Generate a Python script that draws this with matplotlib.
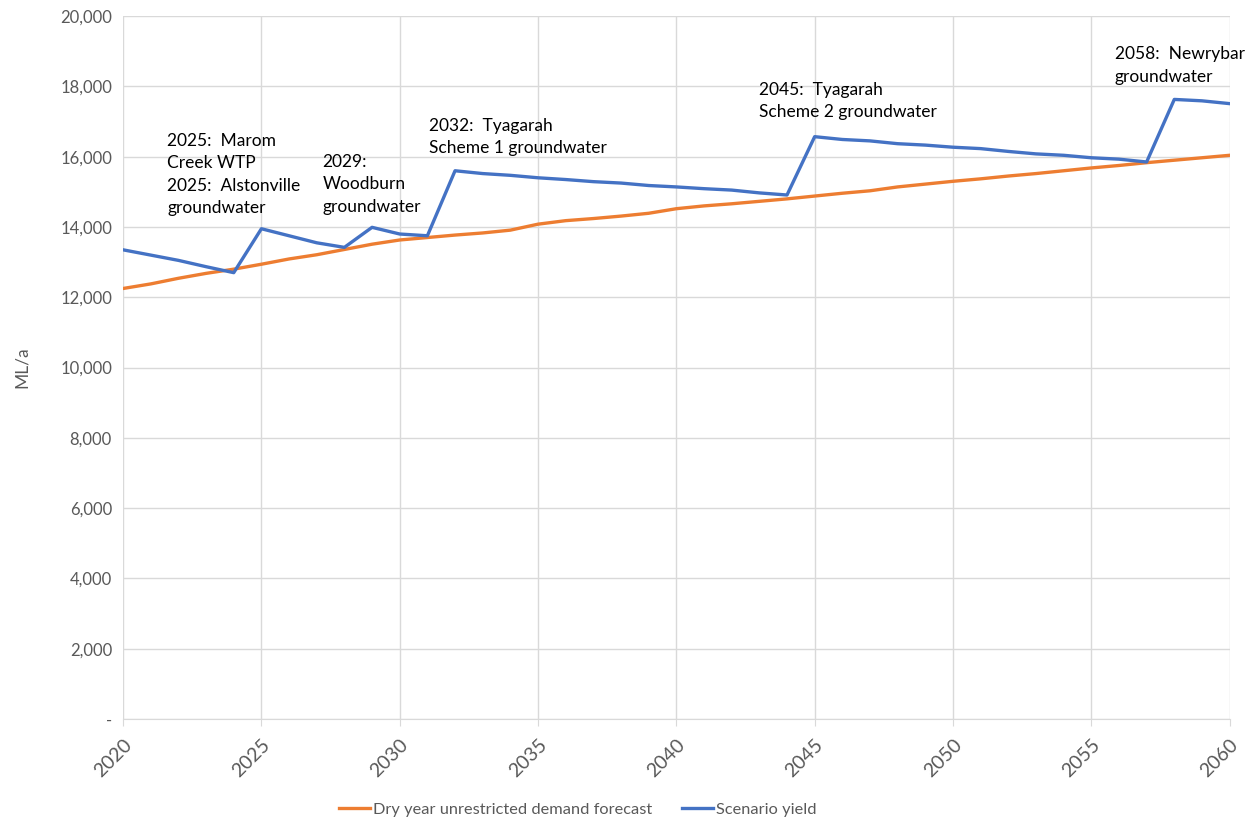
import numpy as np
import matplotlib
matplotlib.use('Agg')
import matplotlib.pyplot as plt
from matplotlib.ticker import FuncFormatter

plt.rcParams['font.family'] = ['Lato', 'DejaVu Sans']

years = list(range(2020, 2061))

demand = [12250, 12380, 12540, 12680, 12800, 12940, 13090, 13210, 13360, 13510,
          13630, 13700, 13770, 13830, 13910, 14080, 14180, 14240, 14310, 14390,
          14520, 14600, 14660, 14730, 14800, 14880, 14960, 15030, 15140, 15220,
          15300, 15370, 15450, 15520, 15600, 15680, 15750, 15830, 15900, 15970,
          16040]

yield_ = [13350, 13200, 13050, 12870, 12700, 13950, 13750, 13550, 13420, 13990,
          13800, 13750, 15600, 15520, 15470, 15400, 15350, 15290, 15250, 15180,
          15140, 15090, 15050, 14970, 14910, 16570, 16490, 16450, 16370, 16330,
          16270, 16230, 16150, 16080, 16040, 15970, 15930, 15850, 17630, 17590,
          17510]

notes = ['2025:  Marom\nCreek WTP\n2025:  Alstonville\ngroundwater',
         '2029:\nWoodburn\ngroundwater',
         '2032:  Tyagarah\nScheme 1 groundwater',
         '2045:  Tyagarah\nScheme 2 groundwater',
         '2058:  Newrybar\ngroundwater']
note_x = [2021.6, 2027.2, 2031.05, 2043.0, 2055.85]
note_y = [16680, 16080, 17110, 18130, 19150]

orange = '#ED7D31'
blue = '#4472C4'
grey = '#595959'

fig = plt.figure(figsize=(12.56, 8.23), dpi=100)
ax = fig.add_axes([0.098, 0.1264, 0.881, 0.854])

ax.plot(years, demand, color=orange, lw=2.4, label='Dry year unrestricted demand forecast', zorder=3)
ax.plot(years, yield_, color=blue, lw=2.4, label='Scenario yield', zorder=4)

for t, x, y in zip(notes, note_x, note_y):
    ax.text(x, y, t, fontsize=12.5, color='black', va='top', ha='left', linespacing=1.5)

ax.set_xlim(2020, 2060)
ax.set_ylim(0, 20000)
ax.set_xticks(range(2020, 2061, 5))
ax.set_yticks(range(0, 20001, 2000))
ax.yaxis.set_major_formatter(FuncFormatter(lambda v, p: '-' if v == 0 else f'{int(v):,}'))
ax.grid(True, color='#d9d9d9', lw=1)
ax.set_axisbelow(True)
for s in ['top', 'right', 'left']:
    ax.spines[s].set_visible(False)
ax.spines['bottom'].set_color('#d9d9d9')
ax.tick_params(axis='y', length=0, labelsize=12, colors=grey, pad=8)
ax.tick_params(axis='x', length=5, color='#d9d9d9', labelsize=14, labelcolor=grey, pad=7)
plt.setp(ax.get_xticklabels(), rotation=45, ha='right', rotation_mode='anchor')
ax.set_ylabel('ML/a', fontsize=12.5, color=grey, labelpad=22)

fig.legend(loc='center left', bbox_to_anchor=(0.258, 0.016), ncol=2, frameon=False,
           labelcolor=grey, handlelength=1.9, handletextpad=0.2,
           columnspacing=1.8, prop={'family': ['Lato'], 'size': 11.8})

fig.savefig('out.png', dpi=100)
